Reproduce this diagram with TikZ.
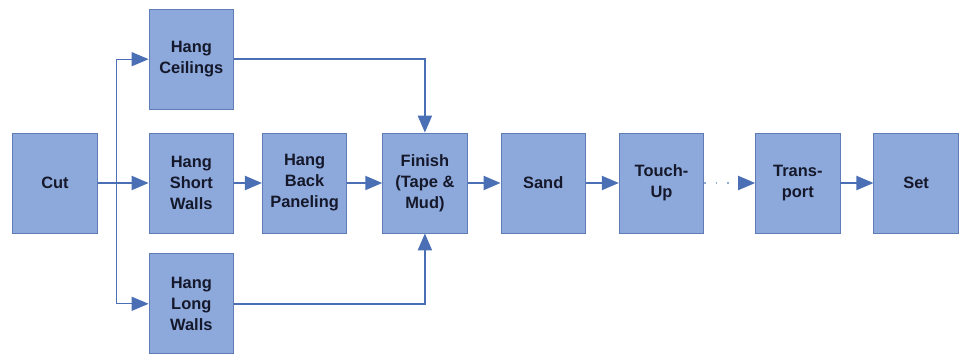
\documentclass[tikz,border=0pt]{standalone}
\usepackage{fontspec}
\setmainfont{Liberation Sans}
\usepackage{tikz}
\usetikzlibrary{arrows.meta, positioning, calc}
\definecolor{stepfill}{HTML}{8DA9DB}
\definecolor{stepline}{HTML}{5E7DB6}
\definecolor{flowline}{HTML}{4A6FB5}
\definecolor{steptext}{HTML}{15182A}

\begin{document}
\begin{tikzpicture}[
    x=1bp, y=1bp,
    stepbox/.style={rectangle, draw=stepline, fill=stepfill, line width=0.8bp, minimum width=84.5bp, minimum height=100bp, inner sep=0pt, align=center, text=steptext, font=\fontsize{16.5}{21}\selectfont\bfseries},
    edge/.style={-{Triangle[length=17bp,width=14bp,color=flowline]}, line width=2bp, draw=flowline},
    branch/.style={-{Triangle[length=17bp,width=14bp]}, line width=1.3bp, draw=flowline}
]
\useasboundingbox (-55,-171) rectangle (912,183);

% Nodes
\node[stepbox] (cut) {Cut};
\node[stepbox, right=51bp of cut] (short) {Hang\\Short\\Walls};
\node[stepbox, above=23bp of short] (ceil) {Hang\\Ceilings};
\node[stepbox, below=20bp of short] (long) {Hang\\Long\\Walls};
\node[stepbox, right=28bp of short] (back) {Hang\\Back\\Paneling};
\node[stepbox, right=35bp of back] (finish) {Finish\\(Tape \&\\Mud)};
\node[stepbox, right=33bp of finish] (sand) {Sand};
\node[stepbox, right=33bp of sand] (touch) {Touch-\\Up};
\node[stepbox, right=51bp of touch] (transport) {Trans-\\port};
\node[stepbox, right=33bp of transport] (set) {Set};
\coordinate (split) at ($(cut.east)+(18.5bp,0)$);

% Edges
\draw[edge] (cut) -- (short);
\draw[branch] (split) |- (ceil.west);
\draw[branch] (split) |- (long.west);
\draw[edge] (short) -- (back);
\draw[edge] (back) -- (finish);
\draw[edge] (ceil.east) -| (finish.north);
\draw[edge] (long.east) -| (finish.south);
\draw[edge] (finish) -- (sand);
\draw[edge] (sand) -- (touch);
\draw[edge, draw=flowline!60, dash pattern=on 1.5bp off 10bp] (touch) -- (transport);
\draw[edge] (transport) -- (set);

\end{tikzpicture}
\end{document}
